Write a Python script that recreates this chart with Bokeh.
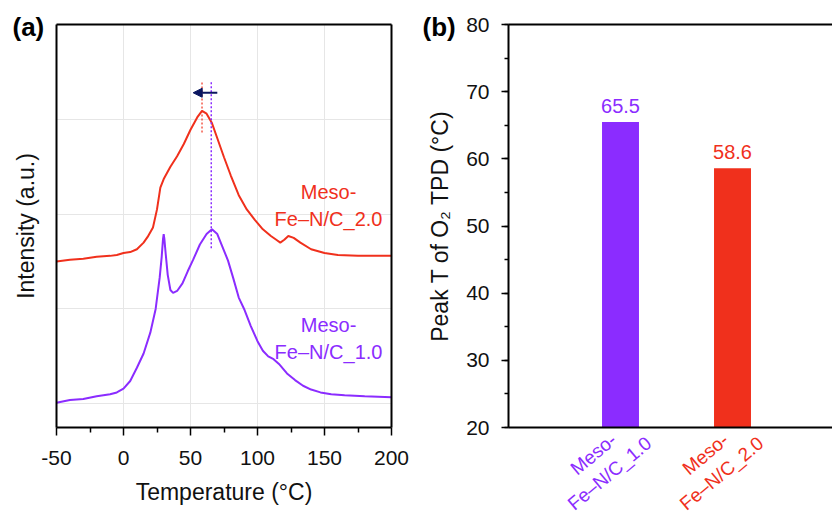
import numpy as np
from bokeh.plotting import figure
from bokeh.layouts import row
from bokeh.models import (ColumnDataSource, Label, Arrow, NormalHead, LinearAxis, Grid,
                          FixedTicker, SingleIntervalTicker, Range1d)
from bokeh.core.properties import value
from bokeh.embed import file_html
from bokeh.resources import INLINE

# ---------------- data ----------------
temp_10 = [-50, -40, -30, -20, -10, -5, 0, 5, 10, 15, 20, 24, 27, 28.5, 29.5, 30, 30.5,
           31.5, 33, 35, 37, 40, 44, 48, 52, 57, 62, 66, 70, 74, 78, 82, 86, 90, 95,
           100, 104, 108, 112, 116, 122, 128, 134, 140, 147, 155, 165, 180, 200]
int_10 = [0.01, 0.04, 0.05, 0.08, 0.10, 0.12, 0.16, 0.24, 0.38, 0.53, 0.75, 1.00, 1.33,
          1.55, 1.74, 1.79, 1.74, 1.58, 1.36, 1.20, 1.17, 1.19, 1.27, 1.40, 1.52, 1.68,
          1.79, 1.84, 1.79, 1.65, 1.51, 1.32, 1.12, 1.00, 0.82, 0.66, 0.56, 0.50, 0.47,
          0.42, 0.32, 0.25, 0.19, 0.15, 0.12, 0.10, 0.09, 0.08, 0.07]

temp_20 = [-50, -40, -30, -20, -10, -5, 0, 5, 10, 15, 18, 22, 25, 27.5, 30, 35, 40, 45,
           50, 55, 58.6, 62, 66, 70, 75, 80, 86, 92, 98, 104, 110, 114, 117, 120, 123,
           127, 132, 140, 150, 160, 175, 200]
int_20 = [1.50, 1.52, 1.53, 1.55, 1.56, 1.57, 1.59, 1.60, 1.63, 1.70, 1.76, 1.86, 2.05,
          2.28, 2.37, 2.50, 2.61, 2.74, 2.89, 3.02, 3.09, 3.06, 2.96, 2.80, 2.60, 2.41,
          2.20, 2.05, 1.94, 1.84, 1.77, 1.73, 1.70, 1.73, 1.77, 1.75, 1.70, 1.63, 1.59,
          1.57, 1.56, 1.56]

categories = ["Meso-\nFe\u2013N/C_1.0", "Meso-\nFe\u2013N/C_2.0"]
peak_values = [65.5, 58.6]
x_ticks = [-50, 0, 50, 100, 150, 200]
x_tick_labels = {-50: "-50", 0: "0", 50: "50", 100: "100", 150: "150", 200: "200"}
x_minor = [-25, 25, 75, 125, 175]
y_grid = [0, 1, 2, 3, 4]

PURPLE = "#8B2CFF"
RED = "#F0301C"
NAVY = "#0B1660"
colors = [PURPLE, RED]
FONT = "Liberation Sans"
TXT = "#111111"

# plot-box limits (the visible boxes)
AX0, AX1 = -50, 200
AY0, AY1 = -0.25, 4.0
BY0, BY1 = 20, 80

# ---------------- panel (a) ----------------
# frame covers whole canvas; box = 56..391 px (x), 24..427 px (y)
sxa = (391 - 56) / (AX1 - AX0)
sya = (427 - 24) / (AY1 - AY0)
pa = figure(width=420, height=515, title=None,
            x_range=Range1d(AX0 - 56 / sxa, AX1 + 29 / sxa),
            y_range=Range1d(AY0 - 88 / sya, AY1 + 24 / sya),
            output_backend="svg", toolbar_location=None, min_border=0)
pa.outline_line_color = None

xa = pa.xaxis[0]
xa.fixed_location = AY0
xa.bounds = (AX0, AX1)
xa.ticker = FixedTicker(ticks=x_ticks, minor_ticks=x_minor)
xa.major_label_overrides = x_tick_labels
xa.axis_line_width = 2
xa.major_tick_line_width = 1.5
xa.minor_tick_line_width = 1.5
xa.major_tick_out = 8
xa.major_tick_in = 0
xa.minor_tick_out = 5
xa.minor_tick_in = 0
xa.major_label_text_font = FONT
xa.major_label_text_font_size = "21px"
xa.major_label_text_color = TXT
xa.major_label_standoff = 15
xa.axis_label = "Temperature (\u00b0C)"
xa.axis_label_text_font = FONT
xa.axis_label_text_font_size = "23px"
xa.axis_label_text_font_style = "normal"
xa.axis_label_text_color = TXT
xa.axis_label_standoff = 11

ya = pa.yaxis[0]
ya.fixed_location = AX0
ya.bounds = (AY0, AY1)
ya.ticker = FixedTicker(ticks=[])
ya.axis_line_width = 2
ya.axis_label = "Intensity (a.u.)"
ya.axis_label_text_font = FONT
ya.axis_label_text_font_size = "23px"
ya.axis_label_text_font_style = "normal"
ya.axis_label_text_color = TXT
ya.axis_label_standoff = 18

pa.add_layout(LinearAxis(fixed_location=AY1, bounds=(AX0, AX1), ticker=FixedTicker(ticks=[]),
                         axis_line_width=2, major_tick_out=0, major_label_standoff=0), "above")
pa.add_layout(LinearAxis(fixed_location=AX1, bounds=(AY0, AY1), ticker=FixedTicker(ticks=[]),
                         axis_line_width=2, major_tick_out=0, major_label_standoff=0), "right")

GRID_COLOR = "#e6e6e6"
if "cross_bounds" in Grid.properties():
    pa.xgrid.ticker = FixedTicker(ticks=x_ticks)
    pa.ygrid.ticker = FixedTicker(ticks=y_grid)
    pa.xgrid.cross_bounds = (AY0, AY1)
    pa.ygrid.cross_bounds = (AX0, AX1)
    pa.grid.grid_line_color = GRID_COLOR
    pa.grid.grid_line_width = 1
else:
    pa.grid.visible = False
    pa.segment(x0=x_ticks, y0=[AY0] * len(x_ticks), x1=x_ticks, y1=[AY1] * len(x_ticks),
               line_color=GRID_COLOR, line_width=1)
    pa.segment(x0=[AX0] * len(y_grid), y0=y_grid, x1=[AX1] * len(y_grid), y1=y_grid,
               line_color=GRID_COLOR, line_width=1)

pa.line(temp_20, int_20, line_color=RED, line_width=2)
pa.line(temp_10, int_10, line_color=PURPLE, line_width=2)

# dotted peak markers
DOT_TOP = 3.41
pa.segment(x0=[peak_values[1]], y0=[2.86], x1=[peak_values[1]], y1=[DOT_TOP],
           line_color=RED, line_width=1.5, line_dash="2 2", line_alpha=0.8)
pa.segment(x0=[peak_values[0]], y0=[1.64], x1=[peak_values[0]], y1=[DOT_TOP],
           line_color=PURPLE, line_width=1.5, line_dash="2 2")

pa.add_layout(Arrow(x_start=70, y_start=3.28, x_end=52, y_end=3.28,
                    line_color=NAVY, line_width=2,
                    end=NormalHead(size=9, fill_color=NAVY, line_color=NAVY)))

pa.add_layout(Label(x=153, y=2.09, text="Meso-\nFe\u2013N/C_2.0", text_align="center",
                    text_baseline="middle", text_color=RED, text_font=FONT,
                    text_font_size="20px", text_line_height=1.25))
pa.add_layout(Label(x=153, y=0.69, text="Meso-\nFe\u2013N/C_1.0", text_align="center",
                    text_baseline="middle", text_color=PURPLE, text_font=FONT,
                    text_font_size="20px", text_line_height=1.25))
pa.add_layout(Label(x=AX0 - 44 / sxa, y=AY1 - 2 / sya, text="(a)", text_align="left",
                    text_baseline="middle", text_font=FONT, text_font_size="26px",
                    text_font_style="bold", text_color="black"))

# ---------------- panel (b) ----------------
# box starts at 88 px inside this figure; bars 112 px apart
xpos = [i + 1 for i in range(len(categories))]
sxb = 112.0
syb = (427 - 24) / (BY1 - BY0)
BX1 = (412 - 88) / sxb
pb = figure(width=412, height=515, title=None,
            x_range=Range1d(-88 / sxb, BX1),
            y_range=Range1d(BY0 - 88 / syb, BY1 + 24 / syb),
            output_backend="svg", toolbar_location=None, min_border=0)
pb.outline_line_color = None
pb.grid.visible = False

src = ColumnDataSource(dict(x=xpos, top=peak_values, color=colors,
                            label=[f"{v:.1f}" for v in peak_values]))
pb.vbar(x="x", top="top", bottom=BY0, width=0.33, fill_color="color", line_color=None,
        source=src)
pb.text(x="x", y="top", text="label", text_color="color", text_align="center",
        text_baseline="bottom", y_offset=-9, text_font=value(FONT),
        text_font_size="20px", source=src)

yb = pb.yaxis[0]
yb.fixed_location = 0
yb.bounds = (BY0, BY1)
yb.ticker = SingleIntervalTicker(interval=10, num_minor_ticks=2)
yb.axis_line_width = 2
yb.major_tick_line_width = 1.5
yb.minor_tick_line_width = 1.5
yb.major_tick_out = 7
yb.major_tick_in = 0
yb.minor_tick_out = 4
yb.minor_tick_in = 0
yb.major_label_text_font = FONT
yb.major_label_text_font_size = "21px"
yb.major_label_text_color = TXT
yb.major_label_standoff = 12
yb.axis_label = "Peak T of O\u2082 TPD (\u00b0C)"
yb.axis_label_text_font = FONT
yb.axis_label_text_font_size = "23px"
yb.axis_label_text_font_style = "normal"
yb.axis_label_text_color = TXT
yb.axis_label_standoff = 10

xb = pb.xaxis[0]
xb.fixed_location = BY0
xb.bounds = (0, BX1)
xb.ticker = FixedTicker(ticks=[])
xb.axis_line_width = 2
xb.major_tick_out = 0
xb.major_label_standoff = 0

pb.add_layout(LinearAxis(fixed_location=BY1, bounds=(0, BX1), ticker=FixedTicker(ticks=[]),
                         axis_line_width=2, major_tick_out=0, major_label_standoff=0), "above")

for xi, cat, col in zip(xpos, categories, colors):
    pb.add_layout(Label(x=xi - 0.17, y=14.6, text=cat, angle=40, angle_units="deg",
                        text_align="center", text_baseline="middle", text_color=col,
                        text_font=FONT, text_font_size="19px", text_line_height=1.2))

pb.add_layout(Label(x=(422 - 508) / sxb, y=BY1 - 2 / syb, text="(b)", text_align="left",
                    text_baseline="middle", text_font=FONT, text_font_size="26px",
                    text_font_style="bold", text_color="black"))

layout = row(pa, pb)
open("out.html", "w").write(file_html(layout, INLINE))
